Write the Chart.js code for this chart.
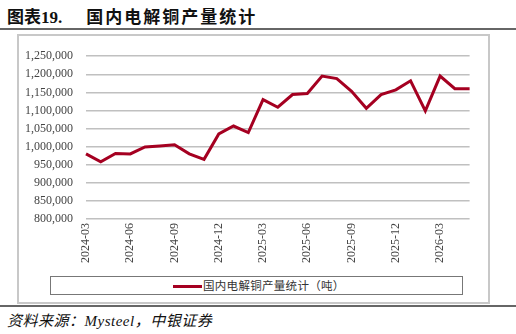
<!DOCTYPE html>
<html>
<head>
<meta charset="utf-8">
<script src="https://cdn.jsdelivr.net/npm/chart.js@4"></script>
<style>
  body { margin: 0; width: 516px; height: 334px; background: #fff; position: relative; overflow: hidden; font-family: "Noto Sans CJK SC", sans-serif; }
  #title { position: absolute; left: 7px; top: 3px; font-size: 17px; font-weight: bold; color: #111; white-space: nowrap; }
  #title .num { font-family: "Liberation Serif", serif; }
  #title .cn { display: inline-block; margin-left: 24px; letter-spacing: 2px; }
  .rule { position: absolute; left: 0; width: 516px; height: 2px; background: #666; }
  #frame { position: absolute; left: 17px; top: 34px; width: 469px; height: 266px; border: 2px solid #c8c8c8; }
  #wrap { position: absolute; left: 18px; top: 36px; width: 470px; height: 238px; }
  #legend { position: absolute; left: 50px; top: 276px; width: 411px; height: 17px; border: 1px solid #777; font-size: 11.5px; color: #333; }
  #legend .swatch { position: absolute; left: 122px; top: 8px; width: 29px; height: 3px; background: #a50021; }
  #legend .txt { position: absolute; left: 152px; top: 0px; line-height: 17px; white-space: nowrap; letter-spacing: 0.3px; }
  #source { position: absolute; left: 7px; top: 309px; font-size: 15px; font-style: italic; color: #111; white-space: nowrap; letter-spacing: 0.5px; }
  #source .en { font-family: "Liberation Serif", serif; }
</style>
</head>
<body>
<div id="title">图表<span class="num">19.</span><span class="cn">国内电解铜产量统计</span></div>
<div class="rule" style="top:28px"></div>
<div id="frame"></div>
<div id="wrap"><canvas id="chart" width="470" height="238"></canvas></div>
<div id="legend"><div class="swatch"></div><div class="txt">国内电解铜产量统计（吨）</div></div>
<div class="rule" style="top:305px"></div>
<div id="source">资料来源：<span class="en">Mysteel</span>，中银证券</div>
<script>
const months = [
  "2024-03", "2024-04", "2024-05", "2024-06", "2024-07", "2024-08", "2024-09",
  "2024-10", "2024-11", "2024-12", "2025-01", "2025-02", "2025-03", "2025-04",
  "2025-05", "2025-06", "2025-07", "2025-08", "2025-09", "2025-10", "2025-11",
  "2025-12", "2026-01", "2026-02", "2026-03", "2026-04", "2026-05"
];
const output = [
  980000, 958000, 981000, 980000, 999000, 1002000, 1005000,
  980000, 965000, 1035000, 1057000, 1039000, 1130000, 1109000,
  1144000, 1147000, 1195000, 1188000, 1153000, 1106000, 1144000,
  1157000, 1182000, 1099000, 1195000, 1160000, 1160000
];
const yMin = 800000;
const yMax = 1250000;
const yStep = 50000;

const ctx = document.getElementById("chart");

new Chart(ctx, {
  type: "line",
  data: {
    labels: months,
    datasets: [
      {
        label: "国内电解铜产量统计（吨）",
        data: output,
        borderColor: "#a50021",
        borderWidth: 3,
        pointRadius: 0,
        tension: 0,
        fill: false,
      },
    ],
  },
  options: {
    responsive: false,
    animation: false,
    layout: { padding: { top: 14, right: 14, left: 0, bottom: 0 } },
    plugins: {
      legend: { display: false },
      tooltip: { enabled: false },
    },
    scales: {
      x: {
        offset: false,
        grid: { display: false, drawTicks: false },
        border: { display: false },
        afterFit: (s) => { s.height = 55; },
        ticks: {
          autoSkip: false,
          maxRotation: 90,
          minRotation: 90,
          padding: 4,
          color: "#444",
          font: { family: "Liberation Serif", size: 12 },
          callback: function (val, i) {
            return i % 3 === 0 ? this.getLabelForValue(val) : "";
          },
        },
      },
      y: {
        min: yMin,
        max: yMax,
        afterFit: (s) => { s.width = 68; },
        grid: { color: "#c0c0c0", lineWidth: 1.5, drawTicks: false },
        border: { display: false },
        ticks: {
          stepSize: yStep,
          padding: 13,
          color: "#444",
          font: { family: "Liberation Serif", size: 12 },
          callback: (v) => v.toLocaleString("en-US"),
        },
      },
    },
  },
});
</script>
</body>
</html>
